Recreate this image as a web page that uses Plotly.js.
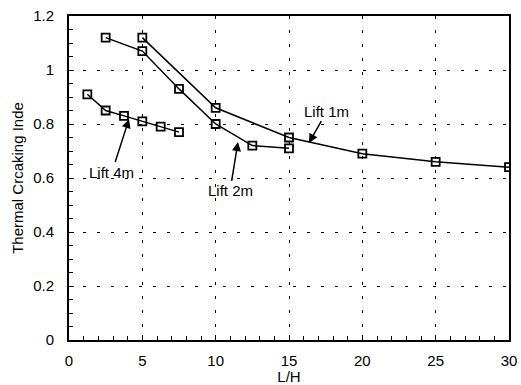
<!DOCTYPE html>
<html>
<head>
<meta charset="utf-8">
<script src="https://cdn.plot.ly/plotly-3.0.1.min.js"></script>
<style>html,body{margin:0;padding:0;background:#fff;}#chart{width:521px;height:385px;}</style>
</head>
<body>
<div id="chart"></div>
<script>
// Data
const lift1X = [5, 10, 15, 20, 25, 30];
const lift1Y = [1.12, 0.86, 0.75, 0.69, 0.66, 0.64];
const lift2X = [2.5, 5, 7.5, 10, 12.5, 15];
const lift2Y = [1.12, 1.07, 0.93, 0.80, 0.72, 0.71];
const lift4X = [1.25, 2.5, 3.75, 5, 6.25, 7.5];
const lift4Y = [0.91, 0.85, 0.83, 0.81, 0.79, 0.77];
const seriesNames = ["Lift 1m", "Lift 2m", "Lift 4m"];
const xTicks = [0, 5, 10, 15, 20, 25, 30];
const yTicks = [0, 0.2, 0.4, 0.6, 0.8, 1, 1.2];
const yTickText = ["0", "0.2", "0.4", "0.6", "0.8", "1", "1.2"];

const font = {family: "Liberation Sans, Arial, sans-serif", size: 15, color: "#000"};

function mk(x, y, name) {
  return {
    x: x, y: y, name: name, type: "scatter", mode: "lines+markers",
    line: {color: "#000", width: 1.5},
    marker: {symbol: "square-open", size: 8, color: "#000", line: {width: 1.8, color: "#000"}},
    showlegend: false
  };
}

const traces = [mk(lift1X, lift1Y, seriesNames[0]), mk(lift2X, lift2Y, seriesNames[1]), mk(lift4X, lift4Y, seriesNames[2])];

function arrowAnn(text, tx, ty, hx, hy) {
  return {
    text: text, x: hx, y: hy, ax: tx, ay: ty, xref: "x", yref: "y", axref: "x", ayref: "y",
    showarrow: true, arrowhead: 2, arrowsize: 1.2, arrowwidth: 1.5, arrowcolor: "#000",
    font: font, standoff: 0
  };
}

const layout = {
  width: 521, height: 385,
  margin: {l: 69, r: 12, t: 16, b: 45},
  paper_bgcolor: "#fff", plot_bgcolor: "#fff",
  font: font,
  xaxis: {
    range: [0, 30], tickvals: xTicks, ticktext: xTicks.map(String),
    showline: true, linecolor: "#000", linewidth: 2, mirror: true,
    ticks: "inside", ticklen: 5, tickcolor: "#000", tickwidth: 1,
    minor: {dtick: 1, ticks: "inside", ticklen: 4, tickcolor: "#000", showgrid: false},
    showgrid: true, gridcolor: "#000", gridwidth: 1, griddash: "3px,11px",
    zeroline: false,
    ticklabelstandoff: 6,
    title: {text: "L/H", font: font, standoff: 0},
    tickfont: font
  },
  yaxis: {
    range: [0, 1.2], tickvals: yTicks, ticktext: yTickText,
    showline: true, linecolor: "#000", linewidth: 2, mirror: true,
    ticks: "inside", ticklen: 5, tickcolor: "#000", tickwidth: 1,
    minor: {dtick: 0.05, ticks: "inside", ticklen: 4, tickcolor: "#000", showgrid: false},
    showgrid: true, gridcolor: "#000", gridwidth: 1, griddash: "3px,11px",
    zeroline: false,
    ticklabelstandoff: 10,
    title: {text: "Thermal Crcaking Inde", font: font, standoff: 6},
    tickfont: font
  },
  annotations: [
    arrowAnn(seriesNames[2], 2.93, 0.622, 4.09, 0.818),
    arrowAnn(seriesNames[1], 10.98, 0.552, 11.52, 0.733),
    arrowAnn(seriesNames[0], 17.59, 0.848, 16.36, 0.73)
  ]
};

Plotly.newPlot("chart", traces, layout, {displayModeBar: false, staticPlot: true});
</script>
</body>
</html>
